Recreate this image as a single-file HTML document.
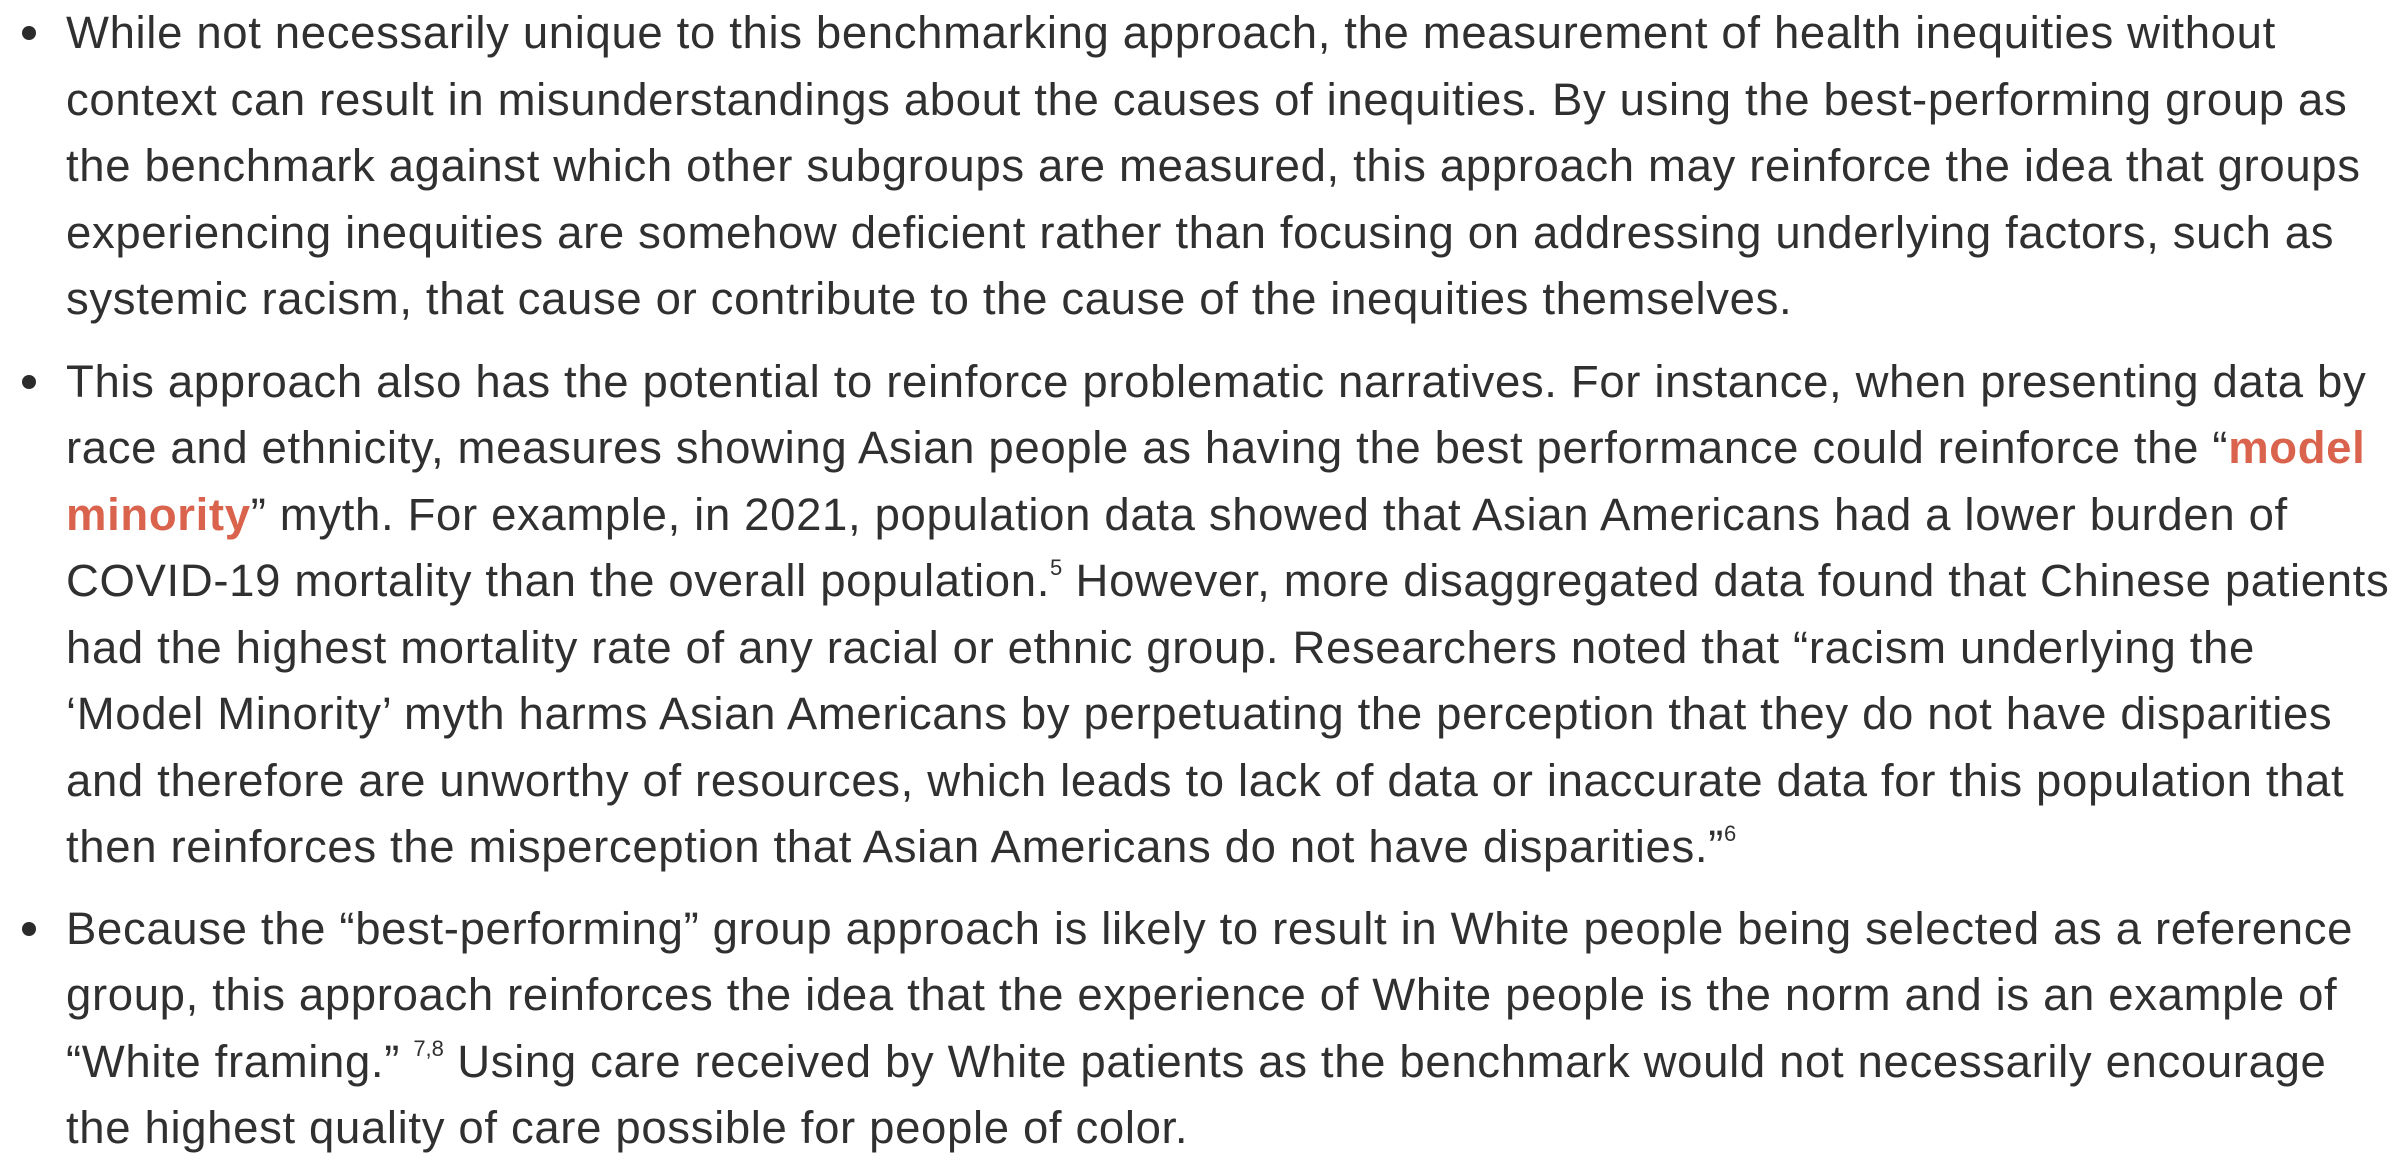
<!DOCTYPE html>
<html><head><meta charset="utf-8">
<style>
html,body{margin:0;padding:0;background:#fff;}
body{width:2396px;height:1162px;overflow:hidden;font-family:"Liberation Sans",Arial,sans-serif;color:#303030;font-size:45.5px;letter-spacing:0.65px;}
ul{list-style:none;margin:0;padding:0;}
li{position:relative;padding-left:66px;margin:0;}
li .dot{position:absolute;left:22px;top:26px;width:14px;height:14px;border-radius:50%;background:#2b2b2b;}
.l{height:66.5px;line-height:66.5px;white-space:nowrap;}
.b1{margin-top:0}
.b2{margin-top:16px}
.b3{margin-top:15px}
.red{color:#d9634c;font-weight:bold;}
sup{font-size:22px;vertical-align:top;line-height:40px;letter-spacing:0;}
</style></head>
<body>
<ul>
<li class="b1"><span class="dot"></span>
<div class="l">While not necessarily unique to this benchmarking approach, the measurement of health inequities without</div>
<div class="l">context can result in misunderstandings about the causes of inequities. By using the best-performing group as</div>
<div class="l">the benchmark against which other subgroups are measured, this approach may reinforce the idea that groups</div>
<div class="l">experiencing inequities are somehow deficient rather than focusing on addressing underlying factors, such as</div>
<div class="l">systemic racism, that cause or contribute to the cause of the inequities themselves.</div>
</li>
<li class="b2"><span class="dot"></span>
<div class="l">This approach also has the potential to reinforce problematic narratives. For instance, when presenting data by</div>
<div class="l">race and ethnicity, measures showing Asian people as having the best performance could reinforce the “<a class="red">model</a></div>
<div class="l"><a class="red">minority</a>” myth. For example, in 2021, population data showed that Asian Americans had a lower burden of</div>
<div class="l">COVID-19 mortality than the overall population.<sup>5</sup> However, more disaggregated data found that Chinese patients</div>
<div class="l">had the highest mortality rate of any racial or ethnic group. Researchers noted that “racism underlying the</div>
<div class="l">‘Model Minority’ myth harms Asian Americans by perpetuating the perception that they do not have disparities</div>
<div class="l">and therefore are unworthy of resources, which leads to lack of data or inaccurate data for this population that</div>
<div class="l">then reinforces the misperception that Asian Americans do not have disparities.”<sup>6</sup></div>
</li>
<li class="b3"><span class="dot"></span>
<div class="l">Because the “best-performing” group approach is likely to result in White people being selected as a reference</div>
<div class="l">group, this approach reinforces the idea that the experience of White people is the norm and is an example of</div>
<div class="l">“White framing.” <sup>7,8</sup> Using care received by White patients as the benchmark would not necessarily encourage</div>
<div class="l">the highest quality of care possible for people of color.</div>
</li>
</ul>
</body></html>
